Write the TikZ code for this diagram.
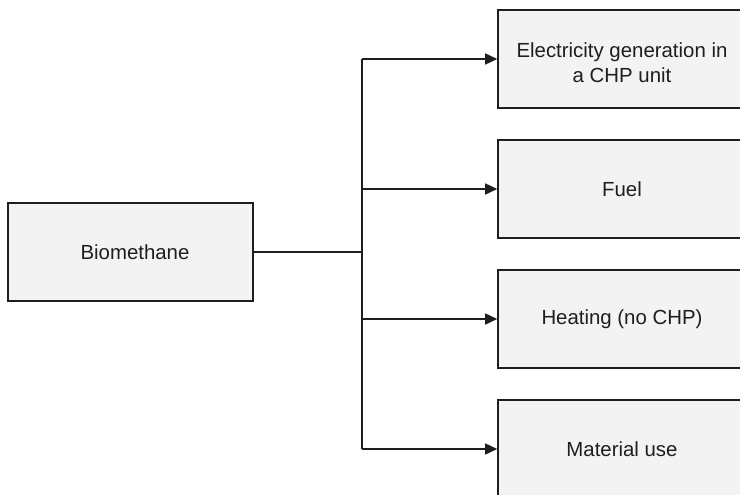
\documentclass[tikz,border=0pt]{standalone}
\usepackage{fontspec}
\setmainfont{Liberation Sans}
\usetikzlibrary{arrows.meta}
\definecolor{boxfill}{HTML}{F3F3F3}
\definecolor{ink}{HTML}{1E1E1E}
\tikzset{
  flowbox/.style={draw=ink, fill=boxfill, line width=1.6pt, minimum width=248pt, minimum height=98pt, align=center, inner sep=0pt, font=\fontsize{20.4}{25}\selectfont, text=ink},
  srcbox/.style={flowbox, minimum width=245pt},
  conn/.style={draw=ink, line width=1.6pt},
  arr/.style={conn, -{Triangle[length=12pt,width=11pt]}}
}
\begin{document}
\begin{tikzpicture}[x=1pt,y=-1pt]
\useasboundingbox (0,0) rectangle (740,495);
\clip (0,0) rectangle (740,495);
\node[srcbox] (bio) at (130.5,252) {\hspace*{9pt}Biomethane};
\node[flowbox] (e1) at (622,59) {\raisebox{-11.5pt}[0pt][0pt]{\begin{tabular}{@{}c@{}}Electricity generation in\\a CHP unit\end{tabular}}};
\node[flowbox] (f2) at (622,189) {Fuel};
\node[flowbox] (h3) at (622,319) {Heating (no CHP)};
\node[flowbox] (m4) at (622,449) {Material use};
\coordinate (j) at (362,252);
\draw[conn] (bio.east) -- (j);
\draw[conn] (j |- e1.west) -- (j |- m4.west);
\draw[arr] (j |- e1.west) -- (e1.west);
\draw[arr] (j |- f2.west) -- (f2.west);
\draw[arr] (j |- h3.west) -- (h3.west);
\draw[arr] (j |- m4.west) -- (m4.west);
\end{tikzpicture}
\end{document}
